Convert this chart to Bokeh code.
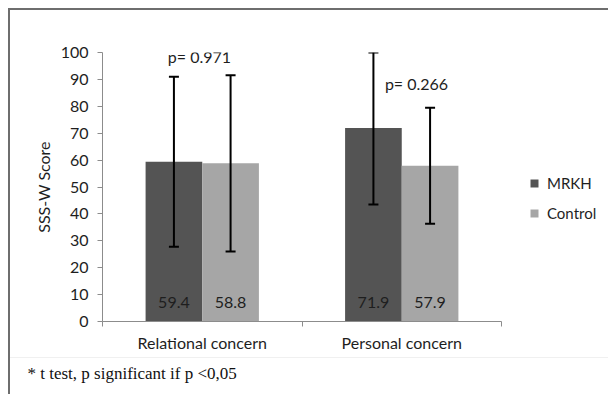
from bokeh.plotting import figure
from bokeh.models import (ColumnDataSource, Whisker, TeeHead, FixedTicker, Legend, LegendItem,
                          Title)
from bokeh.core.properties import value
from bokeh.embed import file_html
from bokeh.resources import INLINE

# ---- data ----
categories = ["Relational concern", "Personal concern"]
groups = ["MRKH", "Control"]
mrkh_mean = [59.4, 71.9]
control_mean = [58.8, 57.9]
mrkh_upper = [91.0, 100.0]
mrkh_lower = [27.8, 43.5]
control_upper = [91.5, 79.5]
control_lower = [26.0, 36.3]
p_values = ["p= 0.971", "p= 0.266"]
y_ticks = [0, 10, 20, 30, 40, 50, 60, 70, 80, 90, 100]
footnote = "* t test, p significant if p <0,05"

# ---- layout constants ----
W, H = 608, 394
LEFT, TOP, BOTTOM = 102, 52, 73
PX_PER_UNIT = 199.5
frame_w = W - LEFT
x_end = frame_w / PX_PER_UNIT
off = 0.142
bw = 0.284
dark = "#545454"
light = "#a6a6a6"
font = "Lato"
txt = "#1e1e1e"

p = figure(width=W, height=H, x_range=(0, x_end), y_range=(0, 100),
           min_border_left=LEFT, min_border_right=0, min_border_top=TOP,
           min_border_bottom=BOTTOM, toolbar_location=None, output_backend="svg",
           outline_line_color=None, border_fill_color=None, background_fill_color=None)
p.styles = {
    "background": "linear-gradient(#6e6e6e,#6e6e6e) 8px 8px / 2px 100% no-repeat, "
                  "linear-gradient(#6e6e6e,#6e6e6e) 8px 8px / 100% 2px no-repeat, "
                  "linear-gradient(#f0f0f0,#f0f0f0) 10px 357px / 100% 1px no-repeat, white"
}
p.xgrid.visible = False
p.ygrid.visible = False

centers = [i + 0.5 for i in range(len(categories))]
src_m = ColumnDataSource(dict(x=[c - off for c in centers], top=mrkh_mean,
                              upper=mrkh_upper, lower=mrkh_lower,
                              lab=[f"{v:.1f}" for v in mrkh_mean]))
src_c = ColumnDataSource(dict(x=[c + off for c in centers], top=control_mean,
                              upper=control_upper, lower=control_lower,
                              lab=[f"{v:.1f}" for v in control_mean]))

r_m = p.vbar(x="x", top="top", width=bw, source=src_m, fill_color=dark, line_color=None)
r_c = p.vbar(x="x", top="top", width=bw, source=src_c, fill_color=light, line_color=None)

for s in (src_m, src_c):
    w = Whisker(source=s, base="x", upper="upper", lower="lower", line_color="black",
                line_width=2, level="overlay",
                upper_head=TeeHead(size=10, line_width=2, line_color="black"),
                lower_head=TeeHead(size=10, line_width=2, line_color="black"))
    p.add_layout(w)
    p.text(x="x", y=7, text="lab", source=s, text_align="center", text_baseline="middle",
           text_font=value(font), text_font_size="16px", text_color=txt)

p.text(x=[centers[0] - 0.014, centers[1] + 0.074], y=[98.5, 88.5], text=p_values,
       text_align="center", text_baseline="middle", text_font=value(font),
       text_font_size="16px", text_color=txt)

# y axis
ya = p.yaxis[0]
ya.ticker = FixedTicker(ticks=y_ticks)
ya.axis_label = "SSS-W Score"
ya.axis_label_text_font = font
ya.axis_label_text_font_style = "normal"
ya.axis_label_text_font_size = "16px"
ya.axis_label_text_color = txt
ya.axis_label_standoff = 5
ya.axis_line_color = "#8c8c8c"
ya.major_tick_line_color = "#8c8c8c"
ya.major_tick_in = 0
ya.major_tick_out = 5
ya.minor_tick_line_color = None
ya.major_label_text_font = font
ya.major_label_text_font_size = "16px"
ya.major_label_text_color = txt
ya.major_label_standoff = 9

# x axis
xa = p.xaxis[0]
xa.bounds = (0, 2)
xa.ticker = FixedTicker(ticks=centers, minor_ticks=[0, 1, 2])
xa.major_label_overrides = {c: n for c, n in zip(centers, categories)}
xa.axis_line_color = "#8c8c8c"
xa.major_tick_line_color = None
xa.minor_tick_line_color = "#8c8c8c"
xa.minor_tick_in = 0
xa.minor_tick_out = 5
xa.major_label_text_font = font
xa.major_label_text_font_size = "16px"
xa.major_label_text_color = txt
xa.major_label_standoff = 5

legend = Legend(items=[LegendItem(label=groups[0], renderers=[r_m]),
                       LegendItem(label=groups[1], renderers=[r_c])],
                location=(427, 98), glyph_width=10, glyph_height=10, label_standoff=8,
                label_height=20, spacing=10, padding=0, margin=0,
                background_fill_alpha=0, border_line_color=None,
                label_text_font=font, label_text_font_size="15px",
                label_text_color=txt)
p.add_layout(legend)

# footnote as a title below the x axis
p.add_layout(Title(text=footnote, align="left", offset=27 - LEFT,
                   text_font="Liberation Serif", text_font_size="17px",
                   text_font_style="normal", text_color="#111111",
                   standoff=15), "below")

open("out.html", "w").write(file_html(p, INLINE))
